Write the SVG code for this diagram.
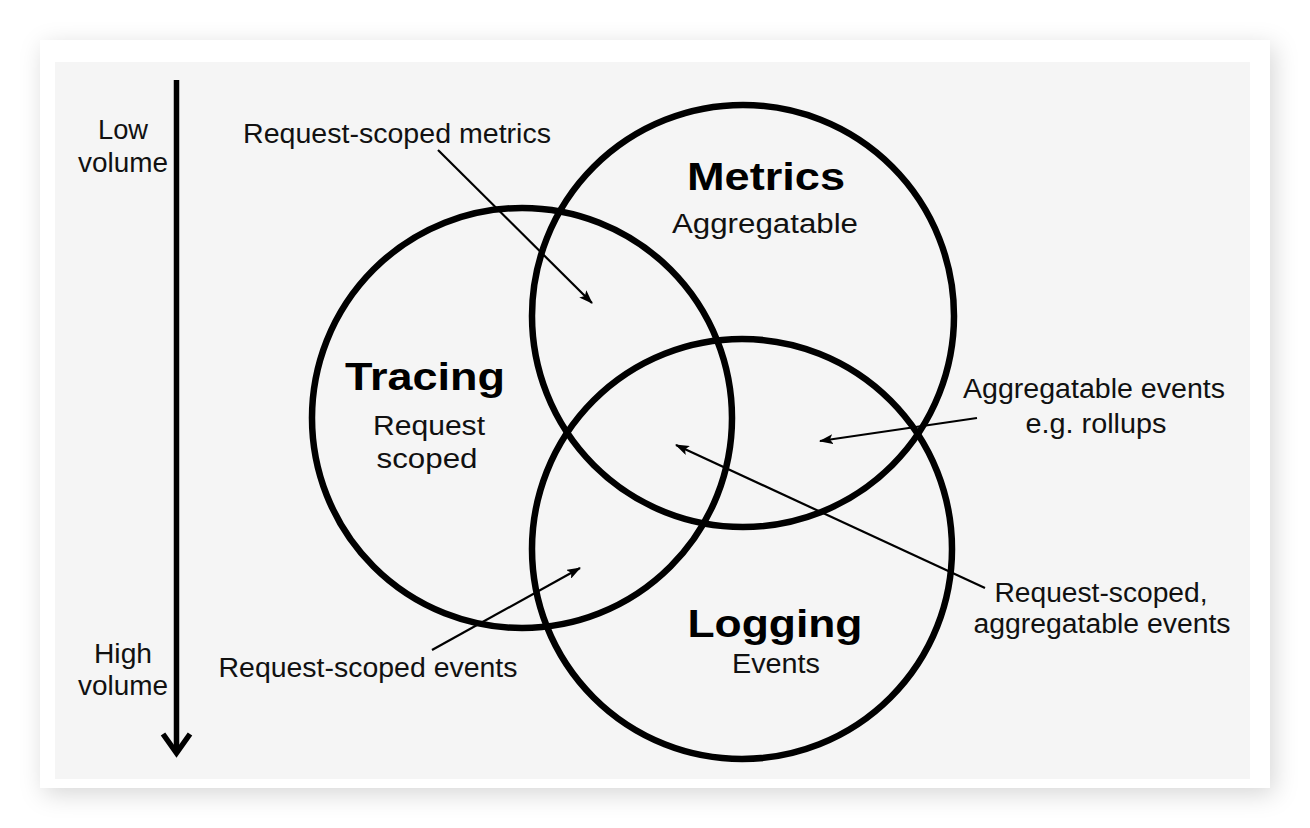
<svg xmlns="http://www.w3.org/2000/svg" width="1310" height="828" viewBox="0 0 1310 828">
<defs>
<filter id="sh" x="-10%" y="-10%" width="120%" height="120%">
<feDropShadow dx="4" dy="6" stdDeviation="12" flood-color="#000" flood-opacity="0.16"/>
</filter>
<marker id="ah" viewBox="0 0 14 10" refX="13" refY="5" markerWidth="14" markerHeight="10" markerUnits="userSpaceOnUse" orient="auto">
<path d="M0,0 L14,5 L0,10 L3,5 Z" fill="#000"/>
</marker>
<style>
.lbl{font-family:"Liberation Sans",Arial,Helvetica,sans-serif;font-size:27px;fill:#111;text-anchor:middle}
.ttl{font-family:"Liberation Sans",Arial,Helvetica,sans-serif;font-size:38px;font-weight:bold;fill:#000;text-anchor:middle}
.circ{fill:none;stroke:#000;stroke-width:6.5}
.conn{stroke:#000;stroke-width:2.2;fill:none;marker-end:url(#ah)}
</style>
</defs>
<rect width="1310" height="828" fill="#fff"/>
<rect x="40" y="40" width="1230" height="748" fill="#fff" filter="url(#sh)"/>
<rect x="55" y="62" width="1195" height="717" fill="#f5f5f5"/>

<g id="volume-axis">
<line x1="176.5" y1="80" x2="176.5" y2="752" stroke="#000" stroke-width="5.5"/>
<polyline points="163,734 176.5,753 190,734" fill="none" stroke="#000" stroke-width="5.5" stroke-linejoin="miter"/>
<text class="lbl" x="123" y="139" textLength="50" lengthAdjust="spacingAndGlyphs">Low</text>
<text class="lbl" x="123" y="172" textLength="90" lengthAdjust="spacingAndGlyphs">volume</text>
<text class="lbl" x="123" y="663" textLength="58" lengthAdjust="spacingAndGlyphs">High</text>
<text class="lbl" x="123" y="695" textLength="90" lengthAdjust="spacingAndGlyphs">volume</text>
</g>

<g id="metrics">
<circle class="circ" cx="743" cy="316" r="211"/>
<text class="ttl" x="766" y="190" textLength="158" lengthAdjust="spacingAndGlyphs">Metrics</text>
<text class="lbl" x="765" y="233" textLength="186" lengthAdjust="spacingAndGlyphs">Aggregatable</text>
</g>

<g id="tracing">
<circle class="circ" cx="522" cy="418" r="210"/>
<text class="ttl" x="425" y="390" textLength="160" lengthAdjust="spacingAndGlyphs">Tracing</text>
<text class="lbl" x="429" y="435" textLength="112" lengthAdjust="spacingAndGlyphs">Request</text>
<text class="lbl" x="427" y="468" textLength="101" lengthAdjust="spacingAndGlyphs">scoped</text>
</g>

<g id="logging">
<circle class="circ" cx="742" cy="549" r="210"/>
<text class="ttl" x="775" y="637" textLength="175" lengthAdjust="spacingAndGlyphs">Logging</text>
<text class="lbl" x="776" y="673" textLength="88" lengthAdjust="spacingAndGlyphs">Events</text>
</g>

<g id="label-request-scoped-metrics">
<text class="lbl" x="397" y="143" textLength="308" lengthAdjust="spacingAndGlyphs">Request-scoped metrics</text>
</g>
<g id="label-aggregatable-events">
<text class="lbl" x="1094" y="398" textLength="262" lengthAdjust="spacingAndGlyphs">Aggregatable events</text>
<text class="lbl" x="1096" y="433" textLength="141" lengthAdjust="spacingAndGlyphs">e.g. rollups</text>
</g>
<g id="label-request-scoped-aggregatable">
<text class="lbl" x="1101" y="602" textLength="213" lengthAdjust="spacingAndGlyphs">Request-scoped,</text>
<text class="lbl" x="1102" y="633" textLength="257" lengthAdjust="spacingAndGlyphs">aggregatable events</text>
</g>
<g id="label-request-scoped-events">
<text class="lbl" x="368" y="677" textLength="299" lengthAdjust="spacingAndGlyphs">Request-scoped events</text>
</g>

<g id="connectors">
<line class="conn" x1="438" y1="150" x2="592" y2="303"/>
<line class="conn" x1="977" y1="418" x2="820" y2="441"/>
<line class="conn" x1="985" y1="588" x2="676" y2="445"/>
<line class="conn" x1="432" y1="650" x2="580" y2="568"/>
</g>
</svg>
